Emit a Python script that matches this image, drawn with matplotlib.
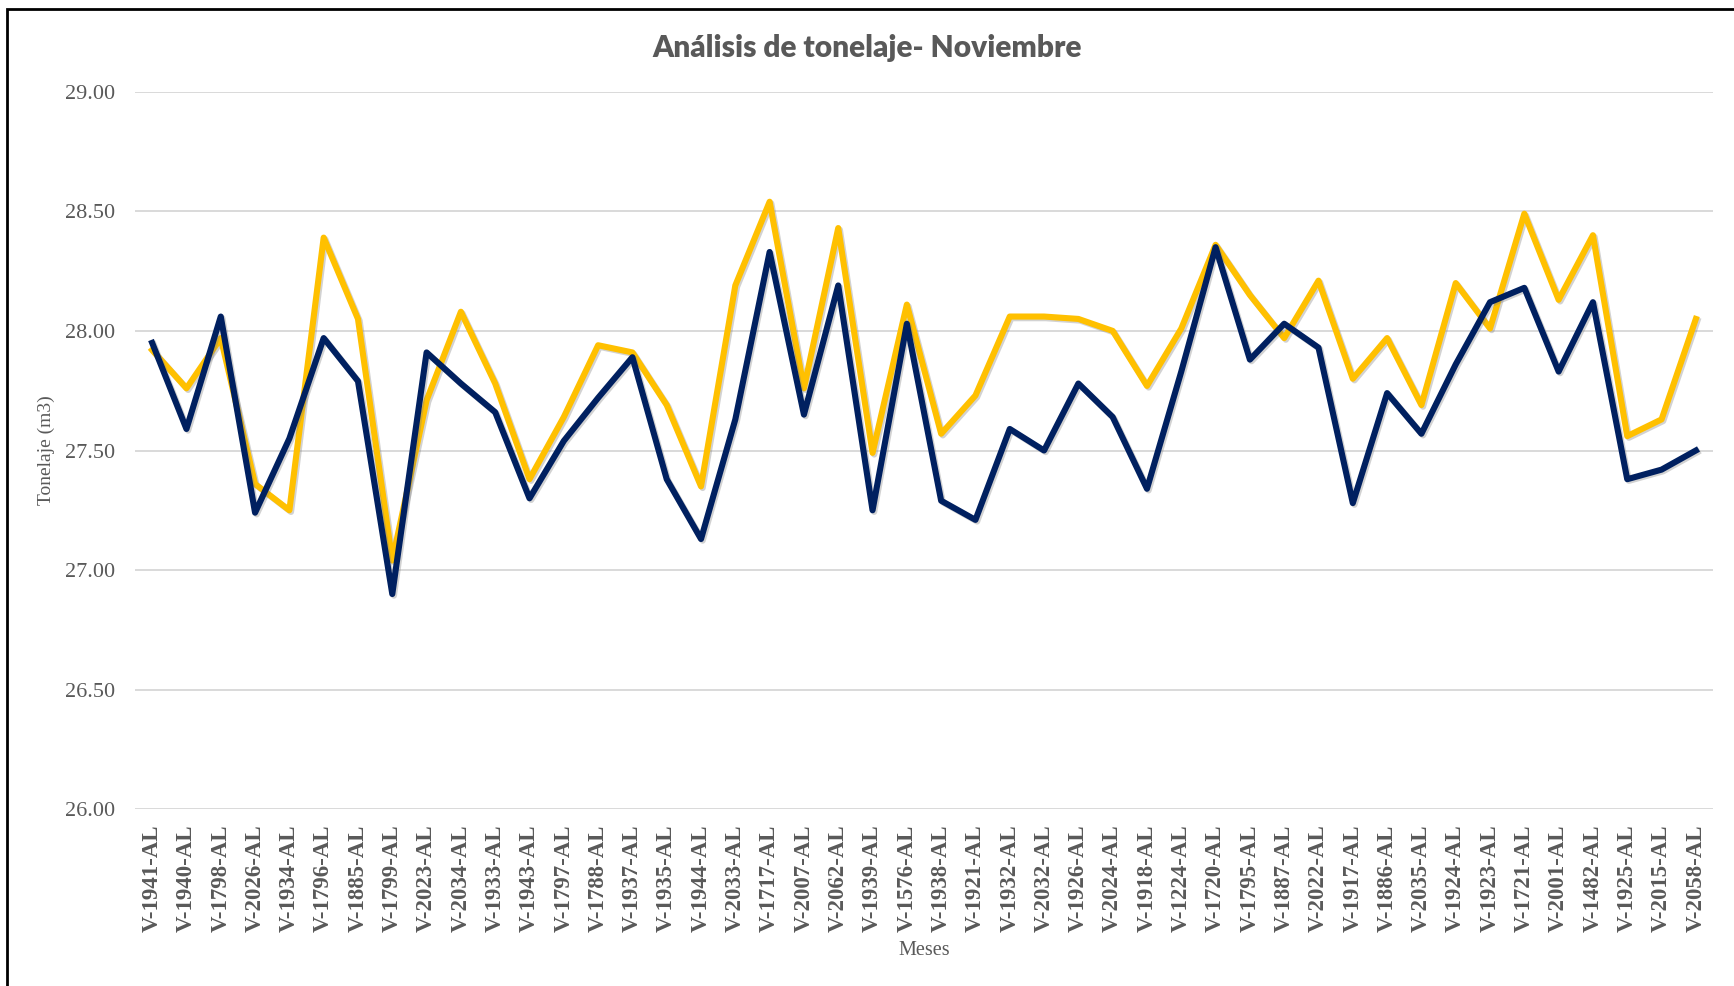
import matplotlib
matplotlib.use("Agg")
import matplotlib.pyplot as plt
import matplotlib.patheffects as pe
from matplotlib.patches import Rectangle

categories = ["V-1941-AL", "V-1940-AL", "V-1798-AL", "V-2026-AL", "V-1934-AL", "V-1796-AL",
              "V-1885-AL", "V-1799-AL", "V-2023-AL", "V-2034-AL", "V-1933-AL", "V-1943-AL",
              "V-1797-AL", "V-1788-AL", "V-1937-AL", "V-1935-AL", "V-1944-AL", "V-2033-AL",
              "V-1717-AL", "V-2007-AL", "V-2062-AL", "V-1939-AL", "V-1576-AL", "V-1938-AL",
              "V-1921-AL", "V-1932-AL", "V-2032-AL", "V-1926-AL", "V-2024-AL", "V-1918-AL",
              "V-1224-AL", "V-1720-AL", "V-1795-AL", "V-1887-AL", "V-2022-AL", "V-1917-AL",
              "V-1886-AL", "V-2035-AL", "V-1924-AL", "V-1923-AL", "V-1721-AL", "V-2001-AL",
              "V-1482-AL", "V-1925-AL", "V-2015-AL", "V-2058-AL"]

serie_amarilla = [27.92, 27.76, 27.97, 27.36, 27.25, 28.39, 28.05, 27.04, 27.71, 28.08,
                  27.78, 27.38, 27.64, 27.94, 27.91, 27.69, 27.35, 28.19, 28.54, 27.76,
                  28.43, 27.49, 28.11, 27.57, 27.73, 28.06, 28.06, 28.05, 28.00, 27.77,
                  28.01, 28.36, 28.15, 27.97, 28.21, 27.80, 27.97, 27.69, 28.20, 28.01,
                  28.49, 28.13, 28.40, 27.56, 27.63, 28.05]

serie_azul = [27.95, 27.59, 28.06, 27.24, 27.55, 27.97, 27.79, 26.90, 27.91, 27.78,
              27.66, 27.30, 27.54, 27.72, 27.89, 27.38, 27.13, 27.63, 28.33, 27.65,
              28.19, 27.25, 28.03, 27.29, 27.21, 27.59, 27.50, 27.78, 27.64, 27.34,
              27.83, 28.35, 27.88, 28.03, 27.93, 27.28, 27.74, 27.57, 27.86, 28.12,
              28.18, 27.83, 28.12, 27.38, 27.42, 27.50]

y_ticks = [26.00, 26.50, 27.00, 27.50, 28.00, 28.50, 29.00]

W, H = 1734, 986
fig = plt.figure(figsize=(W / 100, H / 100), dpi=100)
ax = fig.add_axes([135 / W, 1 - 809.3 / H, (1713 - 135) / W, (809.3 - 91.7) / H])

gray = "#595959"
x = list(range(len(categories)))
shadow = [pe.SimpleLineShadow(offset=(1.2, -1.2), shadow_color="#7f7f7f", alpha=0.35), pe.Normal()]
ax.plot(x, serie_amarilla, color="#FFC000", lw=4.4, solid_joinstyle="round", path_effects=shadow, zorder=3)
ax.plot(x, serie_azul, color="#002060", lw=4.4, solid_joinstyle="round", path_effects=shadow, zorder=4)

ax.set_xlim(-0.5, len(categories) - 0.5)
ax.set_ylim(26.0, 29.0)
ax.set_yticks(y_ticks)
ax.set_yticklabels([f"{v:.2f}" for v in y_ticks], fontfamily="Liberation Serif", fontsize=16, color=gray)
ax.set_xticks(x)
ax.set_xticklabels(categories, rotation=90, fontfamily="Liberation Serif", fontweight="bold",
                   fontsize=16.5, color=gray)
ax.tick_params(axis="both", length=0)
ax.tick_params(axis="y", pad=14)
ax.tick_params(axis="x", pad=11)
ax.grid(axis="y", color="#D9D9D9", lw=1.4)
ax.set_axisbelow(True)
for s in ax.spines.values():
    s.set_visible(False)

ax.set_ylabel("Tonelaje (m3)", fontfamily="Liberation Serif", fontsize=14, color=gray)
ax.yaxis.set_label_coords(-(135 - 55) / (1713 - 135), 0.5)
ax.set_xlabel("Meses", fontfamily="Liberation Serif", fontsize=14.5, color=gray)
ax.xaxis.set_label_coords(0.5, -(941 - 809.3) / (809.3 - 91.7))

fig.text(0.5, 1 - 47.5 / H, "Análisis de tonelaje- Noviembre", ha="center", va="center",
         fontfamily="Lato", fontweight="heavy", fontsize=21.5, color=gray)

# outer frame of the chart (only top and left edges are visible in the image)
fig.patches.append(Rectangle((7 / W, -0.05), 1.1, 1 - 9 / H + 0.05, transform=fig.transFigure,
                             fill=False, edgecolor="black", lw=2.0, zorder=10))

fig.savefig("out.png", dpi=100)
